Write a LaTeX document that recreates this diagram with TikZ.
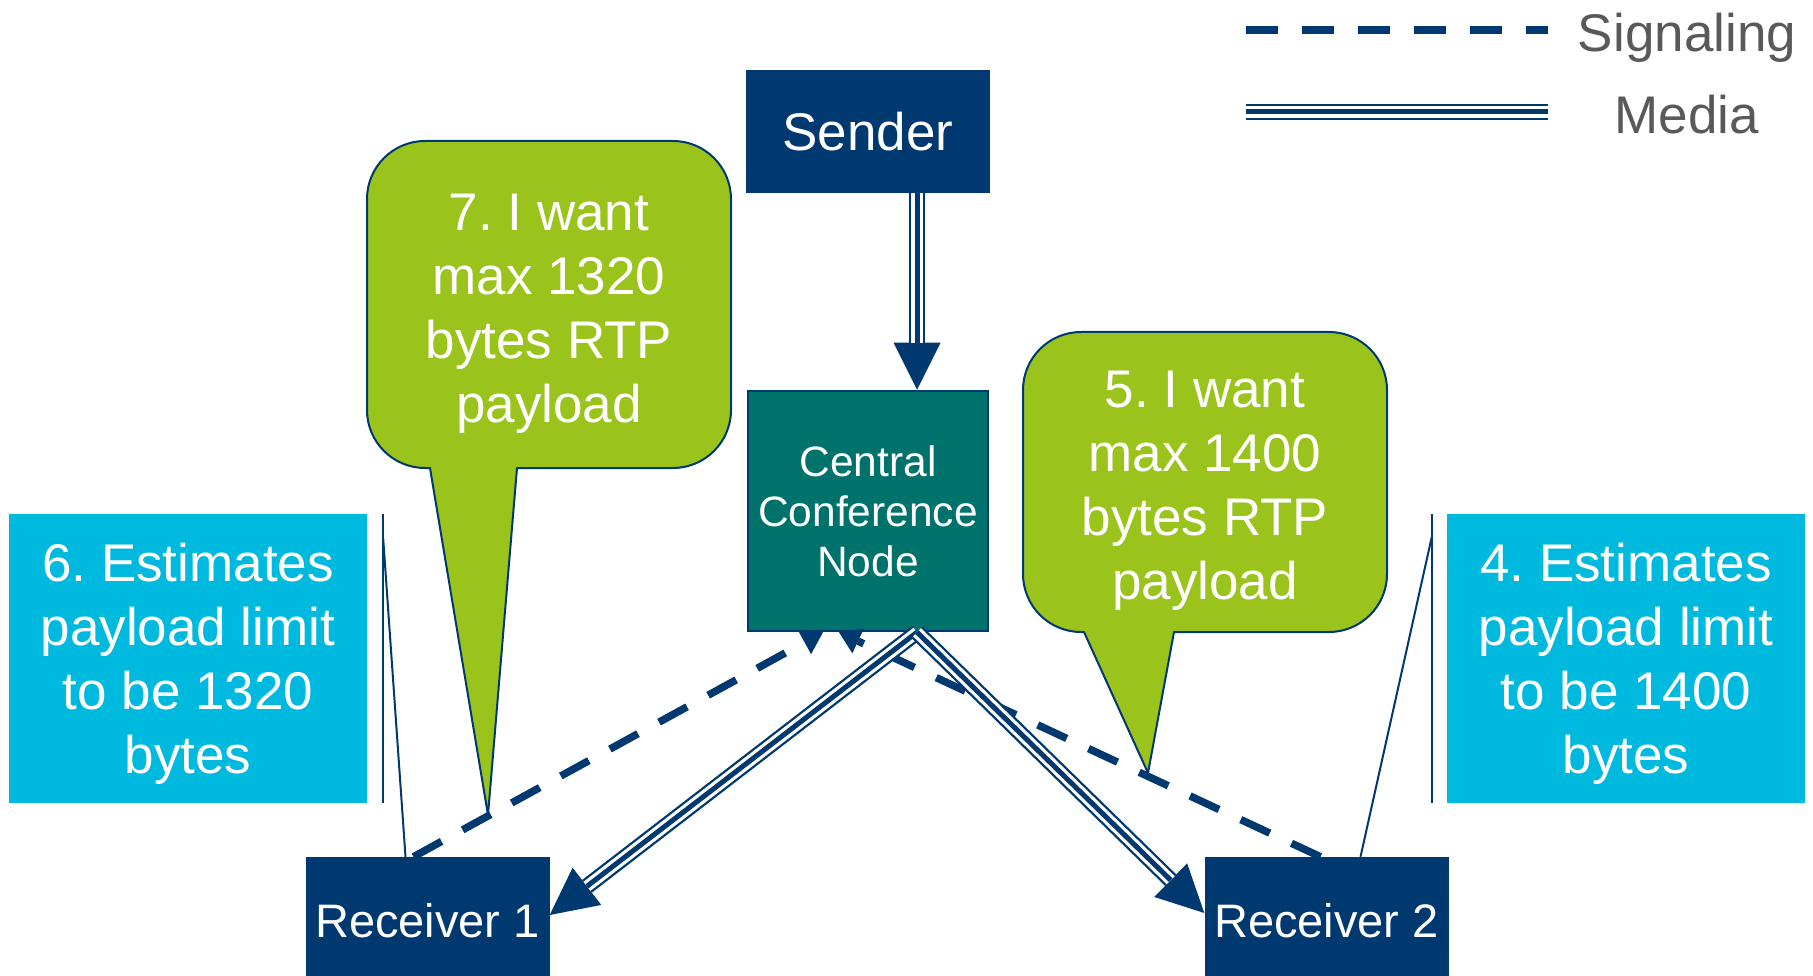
\documentclass[tikz,border=0pt]{standalone}
\usepackage{fontspec}
\setmainfont{Liberation Sans}
\usetikzlibrary{arrows.meta}
\frenchspacing

\definecolor{navy}{RGB}{0,56,112}
\definecolor{hubteal}{RGB}{0,114,108}
\definecolor{leaf}{RGB}{154,195,28}
\definecolor{sky}{RGB}{0,185,222}
\definecolor{legendgray}{RGB}{89,89,89}

\tikzset{
  box/.style={fill=navy, text=white, inner sep=0pt, minimum width=244pt,
    font=\fontsize{53}{64}\selectfont},
  hub/.style={fill=hubteal, draw=navy, line width=2.5pt, text=white, inner sep=0pt,
    minimum width=240pt, minimum height=240pt, align=center,
    font=\fontsize{42.5}{50}\selectfont},
  note/.style={fill=sky, text=white, inner sep=0pt, minimum width=358pt,
    minimum height=289pt, align=center, text depth=-3pt,
    font=\fontsize{53}{64}\selectfont},
  bubble/.style={fill=leaf, draw=navy, line width=2pt, line join=round},
  bubbletext/.style={text=white, inner sep=0pt, align=center,
    font=\fontsize{53}{64}\selectfont},
  leader/.style={draw=navy, line width=2pt},
  signal/.style={draw=navy, line width=7.5pt, dash pattern=on 32pt off 24pt,
    -{Triangle[length=21pt,width=27pt,line width=0pt]}},
  media/.style={draw=navy, line width=16pt,
    -{Triangle[length=47pt,width=47pt,line width=0pt]},
    postaction={draw=white, line width=11.4pt, shorten >=47pt, -},
    postaction={draw=navy, line width=5pt, shorten >=47pt, -}},
  mediabare/.style={draw=navy, line width=16pt,
    postaction={draw=white, line width=11.4pt},
    postaction={draw=navy, line width=5pt}},
  legendtext/.style={text=legendgray, inner sep=0pt,
    font=\fontsize{53}{64}\selectfont},
}

\begin{document}
\begin{tikzpicture}[x=1pt, y=-1pt]
  \useasboundingbox (0,0) rectangle (1813,976);
  \clip (0,0) rectangle (1813,976);

  % estimate notes with their accent bars
  \node[note] (n6) at (188,658.5) {6. Estimates\\payload limit\\to be 1320\\bytes};
  \node[note] (n4) at (1626,658.5) {4. Estimates\\payload limit\\to be 1400\\bytes};

  % endpoints and the conference node
  \node[box, minimum height=123pt, text depth=-4pt] (snd) at (868,131.5) {Sender};
  \node[hub] (ccn) at (868,511) {Central\\Conference\\Node};
  \node[box, minimum height=128pt, font=\fontsize{47}{56}\selectfont] (r1) at (427.5,921) {Receiver 1};
  \node[box, minimum height=128pt, font=\fontsize{47}{56}\selectfont] (r2) at (1326.5,921) {Receiver 2};

  % accent bars and leaders of the estimate notes
  \draw[leader] ([xshift=16pt]n6.north east) -- ([xshift=16pt]n6.south east);
  \draw[leader] ([xshift=16pt,yshift=-25pt]n6.north east) -- ([xshift=-22pt]r1.north);
  \draw[leader] ([xshift=-15pt]n4.north west) -- ([xshift=-15pt]n4.south west);
  \draw[leader] ([xshift=-15pt,yshift=-23pt]n4.north west) -- ([xshift=34pt]r2.north);

  % signaling from the receivers to the conference node
  \draw[signal] ([xshift=-14pt]r1.north) -- ([xshift=-45pt]ccn.south);
  \draw[signal] ([xshift=-6pt]r2.north) -- ([xshift=-29pt]ccn.south);

  % media flow
  \draw[media] ([xshift=49pt]snd.south) -- ([xshift=49pt]ccn.north);
  \draw[media] ([xshift=49pt]ccn.south) -- ([yshift=6pt]r1.east);
  \draw[media] ([xshift=49pt]ccn.south) -- ([yshift=8pt]r2.west);

  % speech bubbles
  \draw[bubble] (430,468) -- (488,815) -- (517,468) -- (673,468)
    .. controls (705,468) and (731,442) .. (731,410) -- (731,199)
    .. controls (731,167) and (705,141) .. (673,141) -- (425,141)
    .. controls (393,141) and (367,167) .. (367,199) -- (367,410)
    .. controls (367,442) and (393,468) .. (425,468) -- cycle;
  \node[bubbletext] (c7) at (549,314) {7. I want\\max 1320\\bytes RTP\\payload};

  \draw[bubble] (1084,632) -- (1148,773) -- (1174,632) -- (1329,632)
    .. controls (1361,632) and (1387,606) .. (1387,574) -- (1387,390)
    .. controls (1387,358) and (1361,332) .. (1329,332) -- (1081,332)
    .. controls (1049,332) and (1023,358) .. (1023,390) -- (1023,574)
    .. controls (1023,606) and (1049,632) .. (1081,632) -- cycle;
  \node[bubbletext] (c5) at (1205,491) {5. I want\\max 1400\\bytes RTP\\payload};

  % legend
  \coordinate (sg1) at (1246,30);
  \coordinate (sg2) at (1548,30);
  \draw[signal, -] (sg1) -- (sg2);
  \coordinate (md1) at (1246,112);
  \coordinate (md2) at (1548,112);
  \draw[mediabare] (md1) -- (md2);
  \node[legendtext, anchor=base] (lgs) at (1687,52) {Signaling};
  \node[legendtext, anchor=base] (lgm) at (1687,134) {Media};
\end{tikzpicture}
\end{document}
